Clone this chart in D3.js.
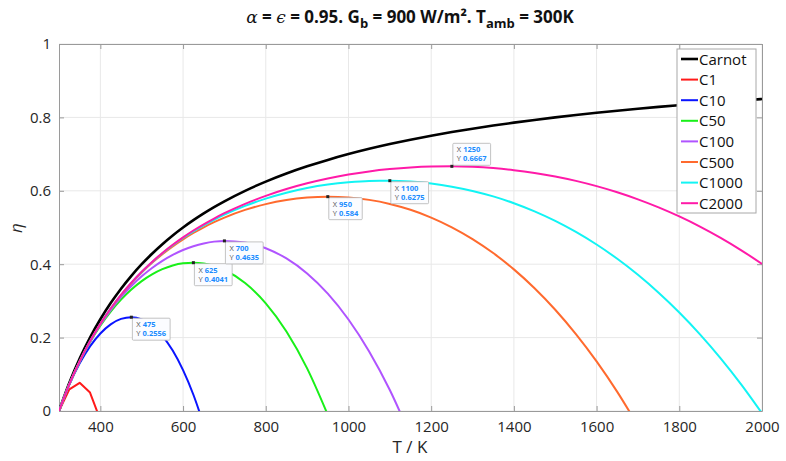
<!DOCTYPE html>
<html>
<head>
<meta charset="utf-8">
<script src="https://cdn.jsdelivr.net/npm/d3@7"></script>
<style>
  body { margin: 0; background: #fff; }
  text { font-family: "Open Sans", "DejaVu Sans", sans-serif; }
</style>
</head>
<body>
<script>
var width = 786,
    height = 461;

// temperatures (K) shared by all series
var temps = [300, 325, 350, 375, 400, 425, 450, 475, 500, 525, 550, 575, 600, 625, 650, 675, 700,
             750, 800, 850, 900, 950, 1000, 1050, 1100, 1150, 1200, 1250, 1300, 1350, 1400, 1450,
             1500, 1550, 1600, 1650, 1700, 1750, 1800, 1850, 1900, 1950, 2000];

var carnot = [0, 0.0769, 0.1429, 0.2, 0.25, 0.2941, 0.3333, 0.3684, 0.4, 0.4286, 0.4545, 0.4783, 0.5, 0.52, 0.5385, 0.5556, 0.5714,
              0.6, 0.625, 0.6471, 0.6667, 0.6842, 0.7, 0.7143, 0.7273, 0.7391, 0.75, 0.76, 0.7692, 0.7778, 0.7857, 0.7931,
              0.8, 0.8065, 0.8125, 0.8182, 0.8235, 0.8286, 0.8333, 0.8378, 0.8421, 0.8462, 0.85];
var c1 = [0, 0.0590, 0.0767, 0.0503, -0.0244];
var c10 = [0, 0.0717, 0.1298, 0.1760, 0.2113, 0.2362, 0.2510, 0.2556, 0.2498, 0.2331, 0.2049, 0.1646, 0.1114, 0.0443, -0.0376];
var c50 = [0, 0.0728, 0.1345, 0.1872, 0.2323, 0.2708, 0.3035, 0.3311, 0.3540, 0.3723, 0.3864, 0.3964, 0.4023, 0.4041, 0.4017, 0.3951, 0.3842,
           0.3486, 0.2934, 0.2167, 0.1162, -0.0105];
var c100 = [0, 0.0729, 0.1351, 0.1886, 0.2349, 0.2751, 0.3101, 0.3406, 0.3670, 0.3897, 0.4091, 0.4254, 0.4386, 0.4490, 0.4566, 0.4615, 0.4635,
            0.4593, 0.4436, 0.4157, 0.3748, 0.3198, 0.2494, 0.1624, 0.0572, -0.0680];
var c500 = [0, 0.0731, 0.1356, 0.1897, 0.2370, 0.2786, 0.3154, 0.3481, 0.3774, 0.4037, 0.4273, 0.4486, 0.4677, 0.4850, 0.5006, 0.5145, 0.5270,
            0.5479, 0.5637, 0.5749, 0.5816, 0.5840, 0.5819, 0.5753, 0.5642, 0.5482, 0.5271, 0.5006, 0.4685, 0.4304, 0.3859, 0.3346,
            0.2760, 0.2097, 0.1353, 0.0522, -0.0402];
var c1000 = [0, 0.0731, 0.1357, 0.1899, 0.2372, 0.2790, 0.3160, 0.3491, 0.3787, 0.4054, 0.4296, 0.4515, 0.4714, 0.4895, 0.5061, 0.5211, 0.5349,
             0.5589, 0.5787, 0.5948, 0.6075, 0.6170, 0.6234, 0.6270, 0.6275, 0.6252, 0.6198, 0.6113, 0.5997, 0.5847, 0.5662, 0.5440,
             0.5180, 0.4879, 0.4536, 0.4147, 0.3711, 0.3224, 0.2685, 0.2090, 0.1436, 0.0720, -0.0061];
var c2000 = [0, 0.0731, 0.1357, 0.1899, 0.2374, 0.2792, 0.3163, 0.3495, 0.3794, 0.4063, 0.4307, 0.4529, 0.4732, 0.4918, 0.5088, 0.5245, 0.5389,
             0.5645, 0.5862, 0.6048, 0.6204, 0.6335, 0.6442, 0.6528, 0.6592, 0.6637, 0.6661, 0.6667, 0.6652, 0.6618, 0.6563, 0.6487,
             0.6390, 0.6270, 0.6127, 0.5960, 0.5767, 0.5548, 0.5301, 0.5025, 0.4718, 0.4379, 0.4007];

var seriesNames = ["Carnot", "C1", "C10", "C50", "C100", "C500", "C1000", "C2000"];
var seriesValues = [carnot, c1, c10, c50, c100, c500, c1000, c2000];
var seriesColors = ["#000000", "#ff1a1a", "#0a14ff", "#19f019", "#b054ff", "#ff6a2e", "#12f4f4", "#ff1aa8"];

// data tips
var tipX = [475, 625, 700, 950, 1100, 1250];
var tipY = ["0.2556", "0.4041", "0.4635", "0.584", "0.6275", "0.6667"];

var xTicks = [400, 600, 800, 1000, 1200, 1400, 1600, 1800, 2000];
var yTicks = [0, 0.2, 0.4, 0.6, 0.8, 1];

var svg = d3.select("body").append("svg")
            .attr("width", width)
            .attr("height", height);

var pLeft = 59, pRight = 762, pTop = 44, pBottom = 411;

var x = d3.scaleLinear().domain([300, 2000]).range([pLeft, pRight]);
var y = d3.scaleLinear().domain([0, 1]).range([pBottom, pTop]);

// grid
svg.append("g").selectAll("line").data(xTicks).enter().append("line")
   .attr("x1", d => x(d)).attr("x2", d => x(d))
   .attr("y1", pTop).attr("y2", pBottom)
   .attr("stroke", "#e8e8e8").attr("stroke-width", 1);
svg.append("g").selectAll("line").data(yTicks).enter().append("line")
   .attr("x1", pLeft).attr("x2", pRight)
   .attr("y1", d => y(d)).attr("y2", d => y(d))
   .attr("stroke", "#e8e8e8").attr("stroke-width", 1);

// axes (ticks pointing inward, box on)
svg.append("g").attr("transform", "translate(0," + pBottom + ")")
   .call(d3.axisBottom(x).tickValues(xTicks).tickSizeInner(-5).tickSizeOuter(0).tickPadding(10)
   .tickFormat(d3.format("d")));
svg.append("g").attr("transform", "translate(" + pLeft + ",0)")
   .call(d3.axisLeft(y).tickValues(yTicks).tickSizeInner(-5).tickSizeOuter(0).tickPadding(8)
   .tickFormat(d3.format("~g")));
svg.append("g").attr("transform", "translate(0," + pTop + ")")
   .call(d3.axisTop(x).tickValues(xTicks).tickSizeInner(-5).tickSizeOuter(0).tickFormat(""));
svg.append("g").attr("transform", "translate(" + pRight + ",0)")
   .call(d3.axisRight(y).tickValues(yTicks).tickSizeInner(-5).tickSizeOuter(0).tickFormat(""));

svg.selectAll(".domain, .tick line").attr("stroke", "#9a9a9a");
svg.selectAll(".tick text").attr("fill", "#262626").style("font-size", "15px");

// clip
svg.append("clipPath").attr("id", "plotclip")
   .append("rect").attr("x", pLeft).attr("y", pTop)
   .attr("width", pRight - pLeft).attr("height", pBottom - pTop);

var smooth = d3.line()
               .x(d => x(d[0]))
               .y(d => y(d[1]))
               .curve(d3.curveMonotoneX);
var straight = d3.line()
                 .x(d => x(d[0]))
                 .y(d => y(d[1]));

var lines = svg.append("g").attr("clip-path", "url(#plotclip)");
seriesValues.forEach(function(vals, i){
  var pts = vals.map((v, j) => [temps[j], v]);
  lines.append("path")
       .attr("d", i == 1 ? straight(pts) : smooth(pts))
       .attr("fill", "none")
       .attr("stroke", seriesColors[i])
       .attr("stroke-width", i == 0 ? 2.6 : 2)
       .attr("stroke-linejoin", "round");
});

// data tips
var tips = svg.append("g");
tipX.forEach(function(tx, i){
  var px = x(tx), py = y(+tipY[i]);
  var above = tx == 1250;
  var g = tips.append("g").attr("transform", "translate(" + (px + 1) + "," + (above ? py - 23 : py + 1) + ")");
  var box = g.append("rect").attr("x", 0).attr("y", 0).attr("height", 22)
             .attr("fill", "#fbfcff").attr("stroke", "#b4b4b4").attr("stroke-width", 0.8).attr("rx", 1);
  var t1 = g.append("text").attr("x", 4).attr("y", 9).style("font-size", "7.5px");
  t1.append("tspan").attr("fill", "#555").text("X ");
  t1.append("tspan").attr("fill", "#1a8cff").attr("font-weight", "bold").text(tx);
  var t2 = g.append("text").attr("x", 4).attr("y", 18).style("font-size", "7.5px");
  t2.append("tspan").attr("fill", "#555").text("Y ");
  t2.append("tspan").attr("fill", "#1a8cff").attr("font-weight", "bold").text(tipY[i]);
  var w = Math.max(t1.node().getComputedTextLength(), t2.node().getComputedTextLength());
  box.attr("width", w + 8);
  tips.append("rect").attr("x", px - 1.5).attr("y", py - 1.5).attr("width", 3).attr("height", 3).attr("fill", "#222");
});

// legend
var lg = svg.append("g");
lg.append("rect").attr("x", 677).attr("y", 49).attr("width", 79).attr("height", 164)
  .attr("fill", "#fff").attr("stroke", "#a8a8a8").attr("stroke-width", 1);
seriesNames.forEach(function(name, i){
  var ly = 59 + i * 20.6;
  lg.append("line").attr("x1", 681).attr("x2", 698).attr("y1", ly).attr("y2", ly)
    .attr("stroke", seriesColors[i]).attr("stroke-width", i == 0 ? 2.6 : 2);
  lg.append("text").attr("x", 699).attr("y", ly + 5.5).attr("fill", "#111")
    .style("font-size", "15px").text(name);
});

// title
var title = svg.append("text").attr("x", 410).attr("y", 23).attr("text-anchor", "middle")
               .attr("font-weight", "bold").style("font-size", "17px").attr("fill", "#111");
title.append("tspan").attr("font-family", "DejaVu Serif, serif").attr("font-style", "italic").attr("font-weight", "normal").text("α");
title.append("tspan").text(" = ");
title.append("tspan").attr("font-family", "DejaVu Serif, serif").attr("font-style", "italic").attr("font-weight", "normal").text("ϵ");
title.append("tspan").text(" = 0.95. G");
title.append("tspan").attr("dy", 5).style("font-size", "13px").text("b");
title.append("tspan").attr("dy", -5).text(" = 900 W/m². T");
title.append("tspan").attr("dy", 5).style("font-size", "13px").text("amb");
title.append("tspan").attr("dy", -5).text(" = 300K");

// axis labels
svg.append("text").attr("x", 410).attr("y", 453).attr("text-anchor", "middle")
   .attr("fill", "#262626").style("font-size", "17px").text("T / K");
svg.append("text").attr("transform", "translate(22,228) rotate(-90)").attr("text-anchor", "middle")
   .attr("fill", "#262626").style("font-size", "17px")
   .attr("font-family", "DejaVu Serif, serif").attr("font-style", "italic").text("η");
</script>
</body>
</html>
